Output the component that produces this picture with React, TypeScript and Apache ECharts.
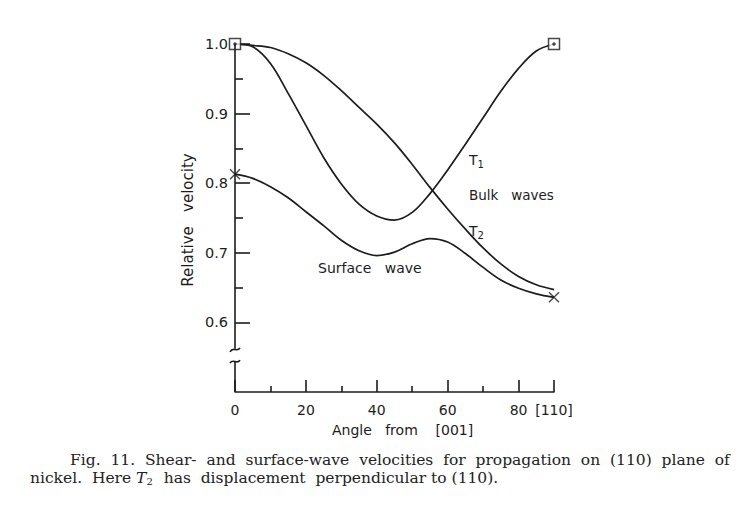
import React, { useEffect, useRef } from "react";
import * as echarts from "echarts";

// Angle from [001] (degrees)
const angles = [0, 5, 10, 15, 20, 25, 30, 35, 40, 45, 50, 55, 60, 65, 70, 75, 80, 85, 90];
// Bulk wave T1 (relative velocity)
const t1Values = [1.0, 0.996, 0.972, 0.929, 0.883, 0.837, 0.799, 0.770, 0.753, 0.747, 0.758, 0.785, 0.819, 0.856, 0.894, 0.932, 0.965, 0.99, 1.0];
// Bulk wave T2
const t2Values = [1.0, 0.998, 0.995, 0.986, 0.973, 0.955, 0.933, 0.909, 0.885, 0.858, 0.827, 0.794, 0.763, 0.734, 0.707, 0.684, 0.666, 0.654, 0.647];
// Surface wave
const surfaceValues = [0.813, 0.807, 0.795, 0.779, 0.759, 0.739, 0.718, 0.703, 0.696, 0.701, 0.713, 0.7205, 0.7155, 0.699, 0.679, 0.661, 0.649, 0.641, 0.636];

const xMajorTicks = [0, 20, 40, 60, 80, 90];
const xMinorTicks = [10, 30, 50, 70];
const yMajorTicks = [0.6, 0.7, 0.8, 0.9, 1.0];
const yMinorTicks = [0.65, 0.75, 0.85, 0.95];
const xTickNames: Record<number, string> = { 90: "[110]" };

const INK = "#1c1c1c";
const SANS = "DejaVu Sans";
const SERIF = "DejaVu Serif";

const pairs = (ys: number[]) => angles.map((a, i) => [a, ys[i]]);
const ends = (ys: number[]) => [
  [angles[0], ys[0]],
  [angles[angles.length - 1], ys[ys.length - 1]],
];

export default function App() {
  const ref = useRef<HTMLDivElement>(null);
  useEffect(() => {
    if (!ref.current) return;
    const chart = echarts.init(ref.current, null, { renderer: "svg" });
    const lineSeries = (name: string, ys: number[]) => ({
      name,
      type: "line",
      data: pairs(ys),
      smooth: 0.35,
      showSymbol: false,
      lineStyle: { color: INK, width: 1.7 },
      xAxisIndex: 0,
      yAxisIndex: 0,
      z: 2,
    });
    const xBase = {
      type: "value",
      min: 0,
      max: 90,
      position: "bottom",
      splitLine: { show: false },
    };
    const yBase = {
      type: "value",
      min: 0.5,
      max: 1.0,
      position: "left",
      splitLine: { show: false },
      axisLine: { show: false },
    };
    chart.setOption({
      animation: false,
      backgroundColor: "#ffffff",
      grid: { left: 235, right: 200, top: 44, bottom: 115, containLabel: false },
      xAxis: [
        {
          ...xBase,
          axisLine: { show: true, lineStyle: { color: INK, width: 1.6 } },
          axisTick: { show: true, inside: true, length: 12, customValues: xMajorTicks, lineStyle: { color: INK, width: 1.6 } },
          axisLabel: {
            show: true,
            customValues: xMajorTicks,
            margin: 11,
            color: INK,
            fontFamily: SANS,
            fontSize: 14,
            formatter: (v: number) => xTickNames[v] ?? String(v),
          },
        },
        {
          ...xBase,
          axisLine: { show: false },
          axisTick: { show: true, inside: true, length: 6, customValues: xMinorTicks, lineStyle: { color: INK, width: 1.6 } },
          axisLabel: { show: false },
        },
      ],
      yAxis: [
        {
          ...yBase,
          axisTick: { show: true, inside: true, length: 15, customValues: yMajorTicks, lineStyle: { color: INK, width: 1.6 } },
          axisLabel: {
            show: true,
            customValues: yMajorTicks,
            margin: 7,
            color: INK,
            fontFamily: SANS,
            fontSize: 14.5,
            formatter: (v: number) => v.toFixed(1),
          },
        },
        {
          ...yBase,
          axisTick: { show: true, inside: true, length: 8, customValues: yMinorTicks, lineStyle: { color: INK, width: 1.6 } },
          axisLabel: { show: false },
        },
      ],
      series: [
        lineSeries("T1", t1Values),
        lineSeries("T2", t2Values),
        lineSeries("Surface wave", surfaceValues),
        {
          type: "scatter",
          data: ends(t1Values),
          symbol: "rect",
          symbolSize: 11,
          itemStyle: { color: "#ffffff", borderColor: INK, borderWidth: 1.5 },
          z: 5,
        },
        {
          type: "scatter",
          data: ends(t1Values),
          symbol: "circle",
          symbolSize: 3.5,
          itemStyle: { color: INK },
          z: 6,
        },
        {
          type: "scatter",
          data: ends(surfaceValues),
          symbol: "path://M0,0L10,10M10,0L0,10",
          symbolSize: 10,
          itemStyle: { color: "transparent", borderColor: INK, borderWidth: 1.4 },
          z: 5,
        },
      ],
    });

    const px = (x: number, y: number) =>
      chart.convertToPixel({ xAxisIndex: 0, yAxisIndex: 0 }, [x, y]) as number[];
    const top = px(0, 1.0);
    const brkHi = px(0, 0.562);
    const brkLo = px(0, 0.543);
    const bottom = px(0, 0.5);
    const ax = top[0];
    const axisStyle = { stroke: INK, lineWidth: 1.6, fill: "none" };
    const subRich = (base: number) => ({
      t: { fontFamily: SANS, fontSize: base, fill: INK },
      s: { fontFamily: SANS, fontSize: 10, fill: INK, verticalAlign: "bottom", padding: [9, 0, 0, 0] },
    });

    chart.setOption({
      graphic: [
        { type: "line", shape: { x1: ax, y1: top[1], x2: ax, y2: brkHi[1] }, style: axisStyle, z: 10 },
        {
          type: "bezierCurve",
          shape: { x1: ax - 5, y1: brkHi[1] + 3, cpx1: ax - 2, cpy1: brkHi[1] - 3, cpx2: ax + 2, cpy2: brkHi[1] + 4, x2: ax + 5, y2: brkHi[1] - 1 },
          style: axisStyle,
          z: 10,
        },
        { type: "line", shape: { x1: ax, y1: brkLo[1], x2: ax, y2: bottom[1] }, style: axisStyle, z: 10 },
        {
          type: "bezierCurve",
          shape: { x1: ax - 5, y1: brkLo[1] + 1, cpx1: ax - 2, cpy1: brkLo[1] - 4, cpx2: ax + 2, cpy2: brkLo[1] + 3, x2: ax + 5, y2: brkLo[1] - 2 },
          style: axisStyle,
          z: 10,
        },
        {
          type: "text",
          left: 469,
          top: 153,
          style: { text: "{t|T}{s|1}", rich: subRich(14) },
        },
        {
          type: "text",
          left: 469,
          top: 188,
          style: { text: "Bulk   waves", fontFamily: SANS, fontSize: 13.5, fill: INK },
        },
        {
          type: "text",
          left: 469,
          top: 224,
          style: { text: "{t|T}{s|2}", rich: subRich(14) },
        },
        {
          type: "text",
          left: 318,
          top: 261,
          style: { text: "Surface   wave", fontFamily: SANS, fontSize: 14, fill: INK },
        },
        {
          type: "text",
          left: 332,
          top: 423,
          style: { text: "Angle   from    [001]", fontFamily: SANS, fontSize: 14, fill: INK },
        },
        {
          type: "text",
          x: 188,
          y: 220,
          rotation: Math.PI / 2,
          style: { text: "Relative   velocity", fontFamily: SANS, fontSize: 15, fill: INK, align: "center", verticalAlign: "middle" },
        },
        {
          type: "text",
          left: 70,
          top: 452,
          style: {
            text: "Fig.  11.  Shear-  and  surface-wave  velocities  for  propagation  on  (110)  plane  of",
            fontFamily: SERIF,
            fontSize: 15.5,
            fill: "#222",
          },
        },
        {
          type: "text",
          left: 30,
          top: 470,
          style: {
            text: "{a|nickel.  Here }{i|T}{s|2}{a|  has  displacement  perpendicular to (110).}",
            rich: {
              a: { fontFamily: SERIF, fontSize: 15.5, fill: "#222" },
              i: { fontFamily: SERIF, fontStyle: "italic", fontSize: 15.5, fill: "#222" },
              s: { fontFamily: SERIF, fontSize: 10, fill: "#222", verticalAlign: "bottom", padding: [6, 1, 0, 0] },
            },
          },
        },
      ],
    });
    return () => chart.dispose();
  }, []);
  return (
    <div
      ref={ref}
      style={{ position: "fixed", left: 0, top: 0, width: 754, height: 507, background: "#fff" }}
    />
  );
}
